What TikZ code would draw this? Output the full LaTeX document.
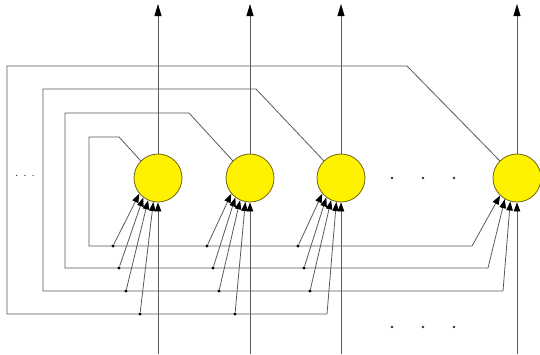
\documentclass[tikz,border=0pt]{standalone}
\usetikzlibrary{arrows.meta}
\begin{document}
\begin{tikzpicture}[x=1pt,y=-1pt,
  wire/.style={draw=black!65,line width=0.8pt},
  inarrow/.style={-{Triangle[length=9pt,width=6.5pt,color=black]}},
  outarrow/.style={-{Triangle[length=12pt,width=7pt,color=black]}},
  neuron/.style={circle,minimum size=48pt,inner sep=0pt,fill=yellow,draw={rgb,255:red,110;green,100;blue,20},line width=0.8pt},
  tap/.style={circle,fill=black,inner sep=0pt,minimum size=3.2pt},
  ell/.style={circle,fill=black!80,inner sep=0pt,minimum size=2.6pt}]
\useasboundingbox (0,0) rectangle (540,354);
% inputs from below
\coordinate (i1) at (158,354);
\coordinate (i2) at (250,354);
\coordinate (i3) at (341,354);
\coordinate (i4) at (517,354);
% outputs
\coordinate (o1) at (158,4);
\coordinate (o2) at (250,4);
\coordinate (o3) at (341,4);
\coordinate (o4) at (517,4);
% neurons
\node[neuron] (n1) at (158,178) {};
\node[neuron] (n2) at (250,178) {};
\node[neuron] (n3) at (341,178) {};
\node[neuron] (n4) at (517,178) {};
\foreach \k in {1,2,3,4}{
  \draw[wire,outarrow] (n\k.north) -- (o\k);
  \draw[wire,inarrow] (i\k) -- (n\k.south);
}
% loop D (from n1)
\coordinate (d1) at (119,137); \coordinate (d2) at (89,137);
\coordinate (d3) at (89,246);  \coordinate (d4) at (472,246);
\draw[wire] (n1.135) -- (d1) -- (d2) -- (d3) -- (d4);
% loop C (from n2)
\coordinate (c1) at (189,113); \coordinate (c2) at (65,113);
\coordinate (c3) at (65,268);  \coordinate (c4) at (488,268);
\draw[wire] (n2.135) -- (c1) -- (c2) -- (c3) -- (c4);
% loop B (from n3)
\coordinate (b1) at (256,89); \coordinate (b2) at (43,89);
\coordinate (b3) at (43,291); \coordinate (b4) at (503,291);
\draw[wire] (n3.135) -- (b1) -- (b2) -- (b3) -- (b4);
% loop A (from n4)
\coordinate (a1) at (407,66); \coordinate (a2) at (7,66);
\coordinate (a3) at (7,314);  \coordinate (a4) at (327,314);
\draw[wire] (n4.135) -- (a1) -- (a2) -- (a3) -- (a4);
% taps
\node[tap] (t1d) at (113,246) {};
\node[tap] (t1c) at (119,268) {};
\node[tap] (t1b) at (126,291) {};
\node[tap] (t1a) at (140,314) {};
\node[tap] (t2d) at (207,246) {};
\node[tap] (t2c) at (213,268) {};
\node[tap] (t2b) at (219,291) {};
\node[tap] (t2a) at (235,314) {};
\node[tap] (t3d) at (298,246) {};
\node[tap] (t3c) at (304,268) {};
\node[tap] (t3b) at (310,291) {};
% weighted inputs
\foreach \k in {1,2}{
  \draw[wire,inarrow] (t\k d) -- (n\k.220);
  \draw[wire,inarrow] (t\k c) -- (n\k.233);
  \draw[wire,inarrow] (t\k b) -- (n\k.246);
  \draw[wire,inarrow] (t\k a) -- (n\k.259);
}
\draw[wire,inarrow] (t3d) -- (n3.220);
\draw[wire,inarrow] (t3c) -- (n3.233);
\draw[wire,inarrow] (t3b) -- (n3.246);
\draw[wire,inarrow] (a4) -- (n3.259);
\draw[wire,inarrow] (d4) -- (n4.226);
\draw[wire,inarrow] (c4) -- (n4.240);
\draw[wire,inarrow] (b4) -- (n4.254);
% ellipses
\node[inner sep=0pt,font=\large] (dotsL) at (25,176) {.\hspace{5pt}.\hspace{5pt}.};
\node[ell] (e1) at (392,178) {};
\node[ell] (e2) at (423,178) {};
\node[ell] (e3) at (454,178) {};
\node[ell] (e4) at (392,327) {};
\node[ell] (e5) at (423,327) {};
\node[ell] (e6) at (454,327) {};
\end{tikzpicture}
\end{document}
